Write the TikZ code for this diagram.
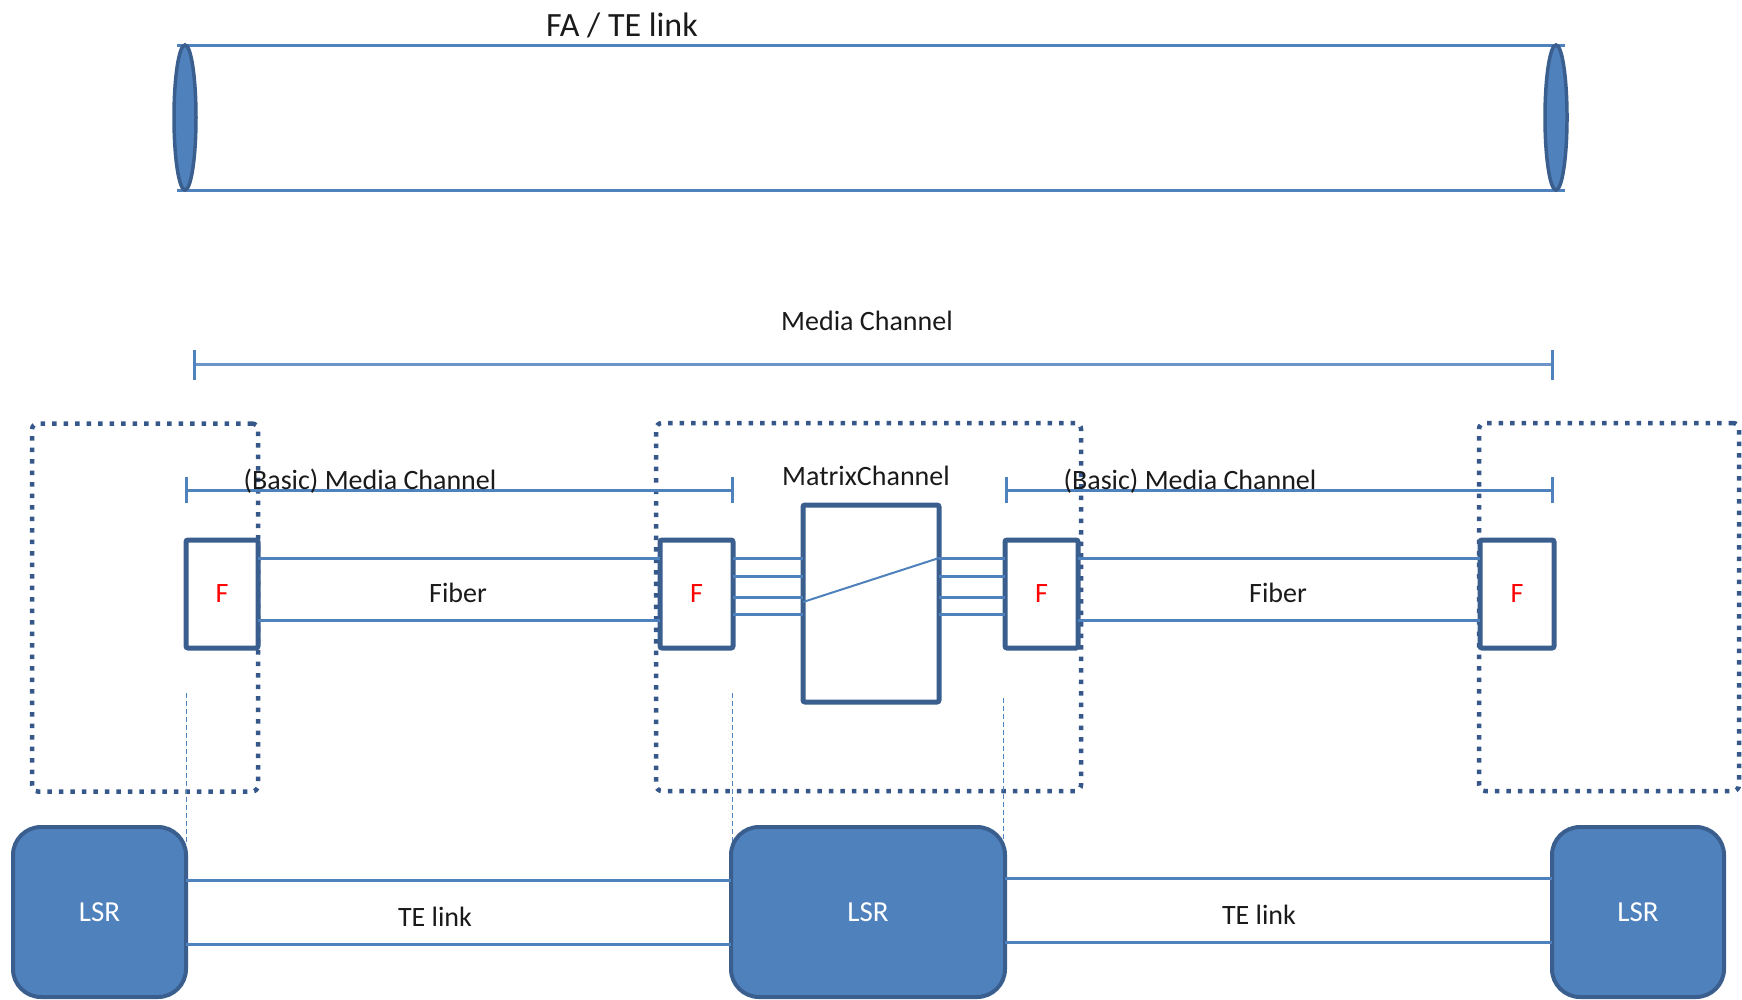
\documentclass[tikz,border=0pt]{standalone}
\usepackage{fontspec}
\setmainfont{Carlito}
\usetikzlibrary{calc,shapes.geometric}
\definecolor{lineblue}{HTML}{4F81BD}
\definecolor{darkblue}{HTML}{3A5F8F}
\definecolor{dotblue}{HTML}{35578A}
\definecolor{lightline}{HTML}{6C94C8}
\definecolor{txt}{HTML}{1A1A1A}
\newcommand{\lblfont}{\fontsize{28}{30}\selectfont}
\tikzset{
  fbox/.style={draw=darkblue, line width=5pt, fill=white, rounded corners=2pt, inner sep=0pt, outer sep=0pt, text=red, font=\lblfont, minimum height=108pt},
  lsr/.style={draw=darkblue, fill=lineblue, line width=4pt, rounded corners=28pt, text=white, font=\fontsize{29}{30}\selectfont, inner sep=0pt, outer sep=0pt, minimum height=170pt},
  dotbox/.style={draw=dotblue, line width=4.5pt, dash pattern=on 4.5pt off 7pt, rounded corners=6pt, inner sep=0pt, outer sep=0pt, minimum height=368pt},
  wire/.style={draw=lineblue, line width=3pt},
  thinwire/.style={draw=lineblue, line width=2pt},
  guide/.style={draw=lineblue, line width=1pt, dash pattern=on 5pt off 3pt},
  lbl/.style={font=\lblfont, text=txt, inner sep=0pt, anchor=base},
  capend/.style={ellipse, draw=darkblue, fill=lineblue, line width=3.5pt, minimum width=22pt, minimum height=145pt, inner sep=0pt},
  mbox/.style={draw=darkblue, line width=5pt, fill=white, rounded corners=2pt, inner sep=0pt, outer sep=0pt}
}
\begin{document}
\begin{tikzpicture}[x=1pt,y=-1pt]
\useasboundingbox (0,0) rectangle (1742,999);

% FA / TE link tube
\coordinate (t1) at (177,45);
\coordinate (t2) at (1565,45);
\coordinate (b1) at (177,190);
\coordinate (b2) at (1565,190);
\draw[wire] (t1) -- (t2);
\draw[wire] (b1) -- (b2);
\node[capend] (e1) at (185,117.5) {};
\node[capend] (e2) at (1556,117.5) {};
\node[lbl, font=\fontsize{34}{36}\selectfont] (fa) at (622,36) {FA / TE link};

% Media Channel bar
\coordinate (mc1) at (194,364.5);
\coordinate (mc2) at (1552,364.5);
\draw[draw=lightline, line width=3pt] (mc1) -- (mc2);
\draw[draw=lineblue, line width=3pt] ($(mc1)+(0,-15)$) -- ($(mc1)+(0,15)$);
\draw[draw=lineblue, line width=3pt] ($(mc2)+(0,-15)$) -- ($(mc2)+(0,15)$);
\node[lbl] (mclbl) at (867,330) {Media Channel};

% dotted boxes
\node[dotbox, minimum width=226pt] (d1) at (145,607.5) {};
\node[dotbox, minimum width=425pt] (d2) at (868.5,607) {};
\node[dotbox, minimum width=260pt] (d3) at (1609,607) {};

% F boxes and matrix
\node[fbox, minimum width=72pt] (f1) at (222,594) {F};
\node[fbox, minimum width=73pt] (f2) at (696.5,594) {F};
\node[fbox, minimum width=73pt] (f3) at (1041.5,594) {F};
\node[fbox, minimum width=74pt] (f4) at (1517,594) {F};
\node[mbox, minimum width=136pt, minimum height=197pt] (mx) at (871,603.5) {};

% basic media channel bars
\coordinate (bm1) at (186,490);
\coordinate (bm2) at (732,490);
\coordinate (bm3) at (1006,490);
\coordinate (bm4) at (1552,490);
\draw[wire] (bm1) -- (bm2);
\draw[wire] (bm3) -- (bm4);
\foreach \c in {bm1,bm2,bm3,bm4}
  \draw[draw=lineblue, line width=3pt] ($(\c)+(0,-13)$) -- ($(\c)+(0,13)$);

% fibers
\draw[wire] (f1.east |- 0,558) -- (f2.west |- 0,558);
\draw[wire] (f1.east |- 0,620) -- (f2.west |- 0,620);
\draw[wire] (f3.east |- 0,558) -- (f4.west |- 0,558);
\draw[wire] (f3.east |- 0,620) -- (f4.west |- 0,620);
\node[lbl] (fib1) at (458,602) {Fiber};
\node[lbl] (fib2) at (1278,602) {Fiber};

% matrix lines
\foreach \yy in {558,576,597,614} {
  \draw[wire] (f2.east |- 0,\yy) -- (mx.west |- 0,\yy);
  \draw[wire] (mx.east |- 0,\yy) -- (f3.west |- 0,\yy);
}
\draw[thinwire] (mx.west |- 0,602) -- (mx.east |- 0,558);
\node[lbl] (mxlbl) at (866,485) {MatrixChannel};

% dashed guides
\coordinate (g1a) at (186,693);
\coordinate (g1b) at (186,842);
\coordinate (g2a) at (732,693);
\coordinate (g2b) at (732,842);
\coordinate (g3a) at (1003,698);
\coordinate (g3b) at (1003,842);
\draw[guide] (g1a) -- (g1b);
\draw[guide] (g2a) -- (g2b);
\draw[guide] (g3a) -- (g3b);

% LSRs and TE links
\node[lsr, minimum width=173pt] (l1) at (99.5,912) {LSR};
\node[lsr, minimum width=274pt] (l2) at (868,912) {LSR};
\node[lsr, minimum width=172pt] (l3) at (1638,912) {LSR};
\draw[wire] (l1.east |- 0,880) -- (l2.west |- 0,880);
\draw[wire] (l1.east |- 0,944) -- (l2.west |- 0,944);
\draw[wire] (l2.east |- 0,878) -- (l3.west |- 0,878);
\draw[wire] (l2.east |- 0,942) -- (l3.west |- 0,942);
\node[lbl] (te1) at (435,926) {TE link};
\node[lbl] (te2) at (1259,924) {TE link};

% basic media channel labels
\node[lbl] (bl1) at (370,489) {(Basic) Media Channel};
\node[lbl] (bl2) at (1190,489) {(Basic) Media Channel};
\end{tikzpicture}
\end{document}
